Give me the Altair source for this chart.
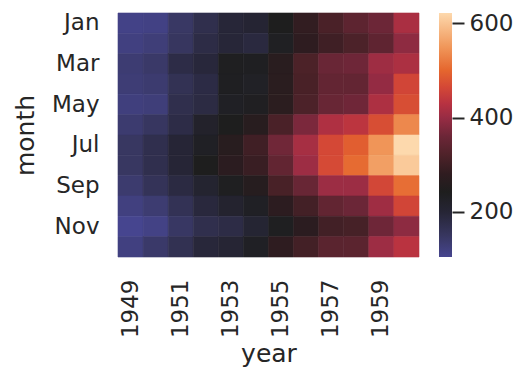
import altair as alt
import pandas as pd

years = [1949, 1950, 1951, 1952, 1953, 1954, 1955, 1956, 1957, 1958, 1959, 1960]
months = ["Jan", "Feb", "Mar", "Apr", "May", "Jun",
          "Jul", "Aug", "Sep", "Oct", "Nov", "Dec"]

y1949 = [112, 118, 132, 129, 121, 135, 148, 148, 136, 119, 104, 118]
y1950 = [115, 126, 141, 135, 125, 149, 170, 170, 158, 133, 114, 140]
y1951 = [145, 150, 178, 163, 172, 178, 199, 199, 184, 162, 146, 166]
y1952 = [171, 180, 193, 181, 183, 218, 230, 242, 209, 191, 172, 194]
y1953 = [196, 196, 236, 235, 229, 243, 264, 272, 237, 211, 180, 201]
y1954 = [204, 188, 235, 227, 234, 264, 302, 293, 259, 229, 203, 229]
y1955 = [242, 233, 267, 269, 270, 315, 364, 347, 312, 274, 237, 278]
y1956 = [284, 277, 317, 313, 318, 374, 413, 405, 355, 306, 271, 306]
y1957 = [315, 301, 356, 348, 355, 422, 465, 467, 404, 347, 305, 336]
y1958 = [340, 318, 362, 348, 363, 435, 491, 505, 404, 359, 310, 337]
y1959 = [360, 342, 406, 396, 420, 472, 548, 559, 463, 407, 362, 405]
y1960 = [417, 391, 419, 461, 472, 535, 622, 606, 508, 461, 390, 432]
series = [y1949, y1950, y1951, y1952, y1953, y1954,
          y1955, y1956, y1957, y1958, y1959, y1960]

year_ticks = [1949, 1951, 1953, 1955, 1957, 1959]
month_ticks = ["Jan", "Mar", "May", "Jul", "Sep", "Nov"]
cbar_ticks = [200, 400, 600]

# colour map (icefire-like, centred near 242)
stop_values = [104, 150, 200, 242, 280, 320, 360, 400, 430, 465, 500, 550, 600, 622]
stop_colors = ["#46458f", "#37365f", "#262535", "#1e1e1e", "#2f1c20", "#4e2229",
               "#6c2637", "#982c44", "#b83241", "#d44836", "#e5662e", "#f0975a",
               "#f9c493", "#fdd9ad"]

rows = []
for yr, vals in zip(years, series):
    for m, v in zip(months, vals):
        rows.append({"year": yr, "month": m, "passengers": v})
df = pd.DataFrame(rows)

TXT = "#262626"
FONT = "DejaVu Sans"
LBL = 23
TTL = 25

cscale = alt.Scale(domain=stop_values, range=stop_colors, interpolate="rgb")

heat = alt.Chart(df).mark_rect(strokeWidth=0.6).encode(
    x=alt.X("year:O", title="year",
            axis=alt.Axis(values=year_ticks, labelAngle=270, tickSize=0,
                          labelPadding=22, labelFontSize=LBL, titleFontSize=TTL,
                          labelOverlap=False, domain=False, titlePadding=4)),
    y=alt.Y("month:O", sort=months, title="month",
            axis=alt.Axis(values=month_ticks, tickSize=0, labelPadding=19,
                          labelFontSize=LBL, titleFontSize=TTL,
                          labelOverlap=False, domain=False, titlePadding=13)),
    color=alt.Color("passengers:Q", scale=cscale, legend=None),
    stroke=alt.Stroke("passengers:Q", scale=cscale, legend=None),
).properties(width=301, height=244)

vmin = min(min(s) for s in series)
vmax = max(max(s) for s in series)
cb_df = pd.DataFrame({"lo": [vmin], "hi": [vmax]})
grad = alt.Gradient(
    gradient="linear", x1=0, x2=0, y1=1, y2=0,
    stops=[alt.GradientStop(offset=(v - vmin) / (vmax - vmin), color=c)
           for v, c in zip(stop_values, stop_colors)],
)
cbar = alt.Chart(cb_df).mark_rect(color=grad).encode(
    x=alt.value(0), x2=alt.value(13),
    y=alt.Y("lo:Q", scale=alt.Scale(domain=[vmin, vmax], nice=False, zero=False),
            axis=alt.Axis(orient="right", values=cbar_ticks, tickSize=12,
                          tickWidth=2, tickColor=TXT, labelPadding=5,
                          labelFontSize=LBL, domain=False, grid=False, title=None,
                          offset=0)),
    y2="hi",
).properties(width=13, height=244)

chart = alt.hconcat(heat, cbar, spacing=19).configure_view(
    stroke=None
).configure_axis(
    labelColor=TXT, titleColor=TXT, labelFont=FONT, titleFont=FONT,
    titleFontWeight="normal",
).properties(background="white",
             padding={"left": 5, "top": 3, "right": 5, "bottom": 5})

chart.save("out.html", embed_options={"renderer": "svg", "actions": False})
